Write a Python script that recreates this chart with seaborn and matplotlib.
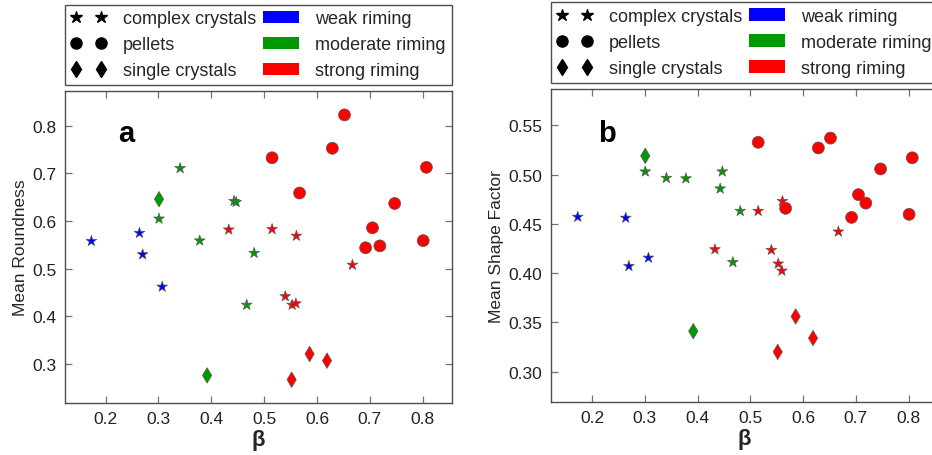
import matplotlib
matplotlib.use("Agg")
import matplotlib.pyplot as plt
from matplotlib.lines import Line2D
from matplotlib.patches import Patch
import seaborn as sns
import pandas as pd

# Per-sample riming degree (beta) with the two shape metrics
beta = [0.173, 0.264, 0.270, 0.307,
        0.301, 0.392,
        0.301, 0.341, 0.378, 0.443, 0.447, 0.481, 0.467,
        0.433, 0.515, 0.561, 0.667, 0.540, 0.553, 0.560,
        0.652, 0.629, 0.515, 0.807, 0.567, 0.747, 0.705, 0.692, 0.719, 0.801,
        0.552, 0.586, 0.619]
roundness = [0.558, 0.575, 0.530, 0.462,
             0.646, 0.276,
             0.605, 0.711, 0.559, 0.642, 0.640, 0.533, 0.424,
             0.582, 0.583, 0.569, 0.508, 0.442, 0.424, 0.427,
             0.823, 0.753, 0.733, 0.713, 0.659, 0.637, 0.586, 0.544, 0.548, 0.559,
             0.267, 0.321, 0.307]
shape_factor = [0.457, 0.456, 0.407, 0.4155,
                0.519, 0.341,
                0.503, 0.4965, 0.496, 0.4857, 0.503, 0.463, 0.411,
                0.424, 0.463, 0.473, 0.442, 0.4234, 0.4095, 0.4023,
                0.537, 0.527, 0.5327, 0.517, 0.4657, 0.5057, 0.4796, 0.4565, 0.471, 0.4596,
                0.320, 0.356, 0.334]
habit = (["complex crystals"] * 4
         + ["single crystals"] * 2
         + ["complex crystals"] * 7
         + ["complex crystals"] * 7
         + ["pellets"] * 10
         + ["single crystals"] * 3)
riming = (["weak riming"] * 4
          + ["moderate riming"] * 9
          + ["strong riming"] * 20)

habit_names = ["complex crystals", "pellets", "single crystals"]
riming_names = ["weak riming", "moderate riming", "strong riming"]
riming_colors = {"weak riming": "#0000ff",
                 "moderate riming": "#009a00",
                 "strong riming": "#ff0000"}
habit_markers = {"complex crystals": "*", "pellets": "o", "single crystals": "d"}
habit_sizes = {"complex crystals": 66, "pellets": 74, "single crystals": 62}

df = pd.DataFrame({"beta": beta, "roundness": roundness,
                   "shape_factor": shape_factor,
                   "habit": habit, "riming": riming})

sns.set_style("white")
plt.rcParams["font.family"] = ["Liberation Sans", "DejaVu Sans"]
plt.rcParams.update({
    "font.size": 12,
    "axes.edgecolor": "0.3", "axes.linewidth": 1.0,
})

fig = plt.figure(figsize=(9.32, 4.56), dpi=100)
ax_a = fig.add_axes([0.0697, 0.114, 0.415, 0.684])
ax_b = fig.add_axes([0.591, 0.117, 0.415, 0.686])

panels = [
    (ax_a, "roundness", "Mean Roundness", "a", (0.123, 0.855), (0.218, 0.873),
     [0.3, 0.4, 0.5, 0.6, 0.7, 0.8], "{:.1f}", (0.137, 0.84), 0.811, True),
    (ax_b, "shape_factor", "Mean Shape Factor", "b", (0.122, 0.855), (0.2695, 0.587),
     [0.30, 0.35, 0.40, 0.45, 0.50, 0.55], "{:.2f}", (0.122, 0.834), 0.816, False),
]

for ax, col, ylabel, tag, xlim, ylim, yticks, fmt, tagpos, leg_y, rticks in panels:
    sns.scatterplot(data=df, x="beta", y=col, hue="riming", palette=riming_colors,
                    style="habit", markers=habit_markers,
                    size="habit", sizes=habit_sizes,
                    edgecolor="0.35", linewidth=0.5, legend=False, ax=ax)
    ax.set_xlim(*xlim)
    ax.set_ylim(*ylim)
    xt = [0.2, 0.3, 0.4, 0.5, 0.6, 0.7, 0.8]
    ax.set_xticks(xt)
    ax.set_xticklabels([f"{v:.1f}" for v in xt])
    ax.set_yticks(yticks)
    ax.set_yticklabels([fmt.format(v) for v in yticks])
    ax.tick_params(which="major", direction="in", top=True, right=rticks,
                   bottom=True, left=True, length=5, width=0.9,
                   color="0.45", labelcolor="#222222", labelsize=12.5, pad=6)
    ax.set_xlabel("β", fontsize=16, fontweight="bold", labelpad=2)
    ax.set_ylabel(ylabel, fontsize=12.5, labelpad=3)
    ax.text(tagpos[0], tagpos[1], tag, transform=ax.transAxes,
            fontsize=21, fontweight="bold", color="black")

    handles = [Line2D([], [], linestyle="none", marker=habit_markers[h],
                      color="black", markersize=8 if h != "complex crystals" else 9)
               for h in habit_names]
    handles += [Patch(facecolor=riming_colors[r], edgecolor="none") for r in riming_names]
    labels = habit_names + riming_names
    pos = ax.get_position()
    leg = fig.legend(handles, labels, ncol=2, numpoints=2,
                     loc="lower left", mode="expand",
                     bbox_to_anchor=(pos.x0, leg_y, pos.width, 0.18),
                     borderaxespad=0, fontsize=13, handlelength=2.0,
                     handletextpad=0.9, labelspacing=0.5, borderpad=0.32,
                     fancybox=False, framealpha=1, edgecolor="0.3")
    leg.get_frame().set_linewidth(1.0)

fig.savefig("out.png", dpi=100)
